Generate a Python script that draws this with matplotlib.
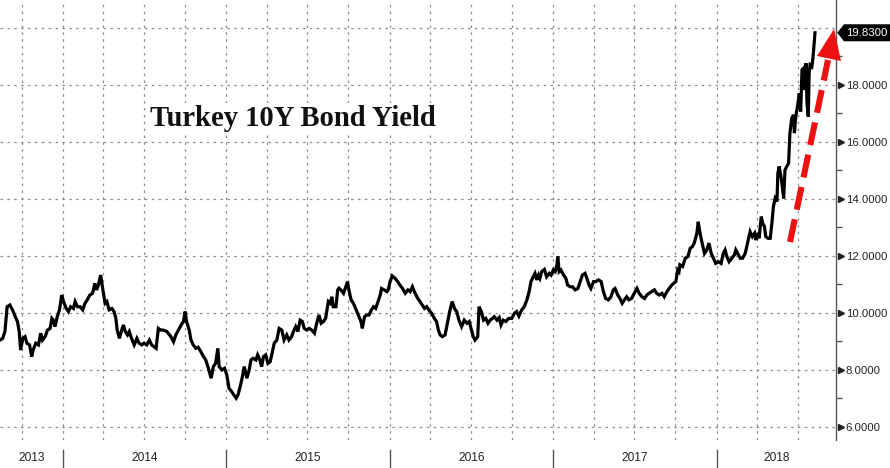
import numpy as np
import pandas as pd
import matplotlib
matplotlib.use("Agg")
import matplotlib.pyplot as plt
import matplotlib.dates as mdates
from matplotlib.ticker import FixedLocator
from matplotlib.transforms import blended_transform_factory
from matplotlib.patches import Polygon

# ---------------- data ----------------
start_date = "2013-08-13"          # first observation
end_of_axis_days = 1869            # axis extends to ~late Sep 2018

# observation day offsets (days after start_date) and yields (%), in 5 pieces
days_1 = [0, 6, 11, 16, 22, 28, 34, 39, 43, 46, 51, 56, 60, 66, 71, 74, 80, 86, 91, 95,
          101, 106, 112, 116, 119, 123, 128, 133, 138, 142, 148, 153, 158, 164, 168, 173,
          179, 185, 190, 195, 201, 207, 212, 216, 220, 225, 230, 235, 239, 244, 250, 255,
          259, 262, 267, 272, 276, 280, 285, 289, 294, 300, 306, 311, 317, 322, 328, 334,
          339, 344, 349, 354, 359, 365, 373, 379]
yld_1 = [9.05, 9.11, 9.35, 10.22, 10.28, 10.11, 9.87, 9.70, 9.35, 8.70, 9.11, 9.17, 8.94,
         8.88, 8.47, 8.70, 8.94, 8.88, 9.29, 9.05, 9.17, 9.40, 9.46, 9.81, 9.75, 9.52, 9.87,
         10.11, 10.63, 10.40, 10.16, 10.05, 10.22, 10.16, 10.40, 10.22, 10.22, 10.11, 10.34,
         10.46, 10.63, 10.69, 11.04, 10.81, 10.98, 11.33, 10.81, 10.34, 10.40, 10.11, 10.16,
         10.05, 9.81, 9.40, 9.11, 9.40, 9.58, 9.35, 9.23, 9.35, 9.11, 8.88, 9.11, 8.94, 8.88,
         8.94, 8.88, 9.05, 8.88, 8.82, 8.76, 9.46, 9.40, 9.40, 9.35, 9.23]

days_2 = [382, 388, 393, 399, 405, 410, 414, 417, 423, 427, 432, 438, 443, 449, 455, 460,
          466, 472, 477, 482, 487, 490, 496, 502, 507, 512, 518, 523, 528, 532, 537, 542,
          546, 552, 557, 561, 566, 572, 576, 581, 585, 589, 594, 599, 604, 609, 613, 619,
          624, 630, 635, 641, 646, 652, 656, 661, 666, 671, 676, 680, 686, 691, 697, 703,
          708, 713, 718, 723, 728, 734, 738, 742, 745, 751, 755, 758]
yld_2 = [9.17, 8.99, 9.23, 9.40, 9.58, 9.70, 10.05, 9.70, 9.40, 9.05, 8.88, 8.76, 8.80,
         8.64, 8.47, 8.35, 8.06, 7.71, 8.12, 8.23, 8.76, 8.12, 8.00, 8.06, 7.83, 7.36, 7.24,
         7.12, 7.01, 7.12, 7.42, 7.77, 8.12, 7.71, 8.00, 8.35, 8.41, 8.35, 8.53, 8.35, 8.12,
         8.47, 8.53, 8.23, 8.29, 8.64, 8.94, 9.05, 9.46, 9.40, 9.05, 9.23, 9.05, 9.17, 9.35,
         9.52, 9.35, 9.75, 9.70, 9.46, 9.40, 9.46, 9.40, 9.29, 9.64, 9.93, 9.64, 9.70, 9.81,
         10.40, 10.34, 10.57, 10.22, 10.22, 10.81, 10.87]

days_3 = [762, 768, 773, 777, 780, 785, 790, 795, 801, 807, 810, 815, 820, 825, 830, 835,
          840, 845, 850, 853, 859, 865, 868, 872, 877, 883, 889, 894, 900, 906, 912, 917,
          922, 928, 934, 939, 944, 949, 954, 959, 965, 971, 976, 980, 984, 989, 995, 1001,
          1006, 1011, 1016, 1021, 1026, 1032, 1038, 1044, 1049, 1053, 1058, 1062, 1068,
          1071, 1076, 1081, 1086, 1091, 1096, 1101, 1105, 1111, 1116, 1120, 1125, 1131, 1137]
yld_3 = [10.81, 10.69, 10.92, 11.10, 10.81, 10.46, 10.34, 10.16, 9.93, 9.70, 9.46, 9.87,
         9.93, 9.93, 10.10, 10.22, 10.16, 10.40, 10.63, 10.86, 10.81, 10.75, 10.81, 11.10,
         11.30, 11.22, 11.10, 10.98, 10.86, 10.69, 10.81, 10.75, 10.92, 10.69, 10.51, 10.40,
         10.28, 10.16, 10.22, 10.10, 9.99, 9.81, 9.70, 9.40, 9.23, 9.17, 9.23, 9.70, 10.10,
         10.40, 10.16, 10.05, 9.75, 9.52, 9.75, 9.64, 9.70, 9.46, 9.17, 9.05, 9.17, 10.22,
         10.05, 9.75, 9.81, 9.64, 9.75, 9.81, 9.87, 9.75, 9.84, 9.58, 9.75, 9.70, 9.81]

days_4 = [1144, 1150, 1155, 1160, 1166, 1172, 1178, 1183, 1187, 1192, 1196, 1200, 1204,
          1207, 1211, 1217, 1222, 1228, 1232, 1237, 1241, 1245, 1247, 1250, 1254, 1260,
          1265, 1269, 1275, 1280, 1286, 1292, 1297, 1302, 1308, 1312, 1317, 1321, 1327,
          1332, 1338, 1344, 1349, 1354, 1360, 1366, 1371, 1375, 1381, 1386, 1391, 1396,
          1401, 1406, 1412, 1418, 1424, 1429, 1435, 1441, 1446, 1451, 1457, 1463, 1468,
          1474, 1480, 1485, 1491, 1496, 1502, 1506, 1511, 1515, 1518]
yld_4 = [9.81, 9.99, 10.05, 9.89, 10.10, 10.22, 10.46, 10.75, 11.10, 11.27, 11.39, 11.16,
         11.33, 11.22, 11.45, 11.53, 11.27, 11.39, 11.33, 11.51, 11.45, 11.68, 11.98, 11.45,
         11.51, 11.33, 11.22, 10.98, 10.92, 10.92, 10.81, 10.86, 11.10, 11.33, 11.39, 11.22,
         10.98, 10.86, 11.10, 11.10, 11.16, 11.10, 10.75, 10.51, 10.46, 10.57, 10.81, 10.86,
         10.63, 10.51, 10.34, 10.46, 10.57, 10.46, 10.51, 10.69, 10.86, 10.69, 10.57, 10.51,
         10.63, 10.69, 10.75, 10.81, 10.69, 10.63, 10.69, 10.57, 10.75, 10.86, 10.98, 11.04,
         11.10, 11.51, 11.45]

days_5 = [1520, 1526, 1532, 1538, 1543, 1548, 1552, 1558, 1561, 1565, 1569, 1575, 1580,
          1585, 1590, 1595, 1600, 1606, 1612, 1617, 1621, 1625, 1630, 1636, 1642, 1645,
          1649, 1655, 1660, 1666, 1672, 1677, 1682, 1687, 1690, 1694, 1697, 1702, 1705,
          1709, 1712, 1717, 1722, 1726, 1729, 1733, 1737, 1739, 1742, 1746, 1749, 1752,
          1755, 1759, 1763, 1766, 1770, 1774, 1776, 1779, 1784, 1787, 1790, 1793, 1796,
          1798, 1802, 1804, 1807, 1809, 1811, 1815, 1817, 1819, 1822]
yld_5 = [11.69, 11.63, 11.92, 11.98, 12.27, 12.33, 12.45, 12.80, 13.20, 12.80, 12.50, 12.09,
         12.21, 12.45, 12.09, 11.92, 11.74, 11.80, 11.74, 12.09, 12.21, 11.98, 11.80, 11.92,
         12.04, 12.21, 12.09, 11.92, 11.92, 12.09, 12.50, 12.85, 12.68, 12.80, 12.56, 12.80,
         12.62, 13.38, 13.15, 13.03, 12.68, 12.62, 12.62, 13.20, 13.73, 14.02, 13.91, 14.90,
         15.14, 14.78, 14.43, 14.02, 15.02, 15.14, 15.25, 16.31, 16.83, 16.95, 16.31, 16.89,
         17.36, 17.71, 17.07, 18.53, 18.58, 17.82, 18.76, 17.42, 16.89, 18.41, 18.70, 18.64,
         18.88, 19.23, 19.83]

y_ticks = [6, 8, 10, 12, 14, 16, 18, 20]
year_labels = ["2013", "2014", "2015", "2016", "2017", "2018"]
title_text = "Turkey 10Y Bond Yield"
last_label = "19.8300"

# ---------------- figure ----------------
days = days_1 + days_2 + days_3 + days_4 + days_5
yields = yld_1 + yld_2 + yld_3 + yld_4 + yld_5
t0 = pd.Timestamp(start_date)
dates = t0 + pd.to_timedelta(days, unit="D")
t_end = t0 + pd.Timedelta(days=end_of_axis_days)

W, H = 890, 468
fig = plt.figure(figsize=(W / 100, H / 100), dpi=100)
fig.patch.set_facecolor("white")
ax = fig.add_axes([0, 28 / H, 836 / W, 440 / H])
ax.set_facecolor("white")

ax.plot(dates, yields, color="black", lw=2.3, solid_joinstyle="miter", zorder=3)
ax.set_xlim(t0, t_end)
ax.set_ylim(5.544, 20.98)

grid_kw = dict(color="#8c8c8c", lw=0.9, linestyle=(0, (2, 3.5)))
lab_font = dict(family="Liberation Sans", size=8.2)

# y axis on the right
ax.yaxis.tick_right()
ax.set_yticks(y_ticks)
ax.set_yticklabels([f"{v:.4f}" if v != 20 else "" for v in y_ticks])
ax.yaxis.set_minor_locator(FixedLocator(np.arange(7, 21, 2)))
ax.tick_params(axis="y", which="major", length=0, pad=7, labelcolor="#222222")
for lab in ax.get_yticklabels():
    lab.set_family(lab_font["family"])
    lab.set_fontsize(lab_font["size"])
ax.tick_params(axis="y", which="minor", length=4, width=1, color="#555555", direction="out")
ax.yaxis.grid(True, which="major", **grid_kw)

# x axis: vertical gridlines at quarter starts
ax.xaxis.set_major_locator(mdates.MonthLocator(bymonth=[1, 4, 7, 10]))
ax.xaxis.grid(True, which="major", **grid_kw)
ax.tick_params(axis="x", which="both", length=0, labelbottom=False)

for s in ["left", "top", "bottom"]:
    ax.spines[s].set_visible(False)
ax.spines["right"].set_color("#555555")
ax.spines["right"].set_linewidth(1.0)

# tick triangles on right
btr = blended_transform_factory(ax.transAxes, ax.transData)
tri_ticks = [v for v in y_ticks if v != 20]
ax.plot([1.0055] * len(tri_ticks), tri_ticks, ls="none", marker=">", ms=5,
        color="#222222", transform=btr, clip_on=False, zorder=5)

# year labels and separators below the plot
bx = blended_transform_factory(ax.transData, ax.transAxes)
years = [int(y) for y in year_labels]
bounds = [t0] + [pd.Timestamp(f"{y}-01-01") for y in years[1:]] + [t_end]
for i, lab in enumerate(year_labels):
    mid = bounds[i] + (bounds[i + 1] - bounds[i]) / 2
    ax.text(mdates.date2num(mid), -0.042, lab, transform=bx, ha="center", va="center",
            fontsize=8.6, color="#222222", family="Liberation Sans")
for b in bounds[1:-1]:
    xn = mdates.date2num(b)
    ax.plot([xn, xn], [-0.022, -0.064], color="#555555", lw=1, transform=bx, clip_on=False)

# title
ax.text(150 / 836, 1 - 118 / 440, title_text, transform=ax.transAxes, ha="left",
        va="center", fontsize=20.6, fontweight="bold", family="Liberation Serif",
        color="#111111", zorder=4,
        bbox=dict(facecolor="white", edgecolor="none", pad=1))

# red dashed arrow (annotation)
def px(x, y):
    return (x / 836, 1 - y / 440)

p0 = px(790, 242)
p1 = px(828, 60)
ax.plot([p0[0], p1[0]], [p0[1], p1[1]], color="#ee1111", lw=4.4,
        linestyle=(0, (3.8, 1.6)), dash_capstyle="butt", transform=ax.transAxes,
        clip_on=False, zorder=6)
head = Polygon([px(834, 29), px(817, 56), px(841, 61)], closed=True, facecolor="#ee1111",
               edgecolor="none", transform=ax.transAxes, clip_on=False, zorder=6)
ax.add_patch(head)

# last value label box
last_v = yields[-1]
hh = 8.5 / 28.5
box = Polygon([(1.0015, last_v), (1.0095, last_v + hh), (1.07, last_v + hh),
               (1.07, last_v - hh), (1.0095, last_v - hh)], closed=True,
              facecolor="black", edgecolor="none", transform=btr, clip_on=False, zorder=7)
ax.add_patch(box)
ax.text(1.0125, last_v, last_label, transform=btr, ha="left", va="center", fontsize=8.2,
        color="white", family="Liberation Sans", zorder=8)

fig.savefig("out.png", dpi=100, facecolor="white")
